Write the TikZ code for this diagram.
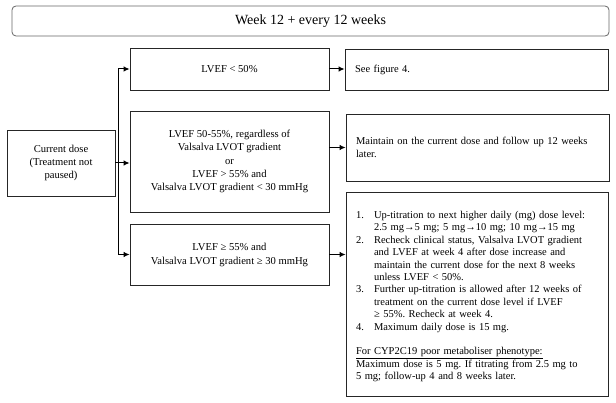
\documentclass[tikz,border=0pt]{standalone}
\usepackage{fontspec}
\setmainfont{Liberation Serif}
\usetikzlibrary{arrows.meta}
\frenchspacing

\newcommand{\boxfont}{\fontsize{10.6}{13.4}\selectfont}
\newcommand{\listfont}{\fontsize{10.5}{12.4}\selectfont}
\newcommand{\planitem}[2]{\par\hangindent=18pt\hangafter=1\noindent\makebox[18pt][l]{#1}#2}

\begin{document}
\begin{tikzpicture}[
    x=1pt, y=-1pt,
    box/.style={rectangle, draw=black!85, line width=0.8pt, inner sep=0pt, align=center, font=\boxfont},
    note/.style={box, align=left, inner xsep=10pt, font=\listfont},
    arrow/.style={-{Latex[length=6pt,width=5.5pt]}, line width=1pt}
]
    \useasboundingbox (0,0) rectangle (616,403);

    \node[box, rounded corners=4pt, draw=black!60, minimum width=597pt, minimum height=30pt,
          font=\fontsize{14}{16}\selectfont] (week) at (310.5,21) {Week 12 + every 12 weeks};

    \node[box, minimum width=108pt, minimum height=66pt] (dose) at (61,163) {Current dose\\(Treatment not\\paused)};

    \node[box, minimum width=199pt, minimum height=42pt] (low50) at (229.5,69) {LVEF < 50\%};
    \node[box, minimum width=199pt, minimum height=101pt] (mid) at (229.5,161.5)
        {LVEF 50-55\%, regardless of\\Valsalva LVOT gradient\\or\\LVEF > 55\% and\\Valsalva LVOT gradient < 30 mmHg};
    \node[box, minimum width=199pt, minimum height=61pt, font=\fontsize{10.6}{14}\selectfont] (high55) at (229.5,254.5)
        {LVEF ≥ 55\% and\\Valsalva LVOT gradient ≥ 30 mmHg};

    \node[note, text width=243pt, minimum height=41pt] (seefig) at (476.5,70) {See figure 4.};
    \node[note, text width=243pt, minimum height=67pt] (keep) at (477.5,147.5)
        {Maintain on the current dose and follow up 12 weeks\\later.};
    \node[note, text width=242pt, minimum height=204pt] (plan) at (477,294) {%
        \planitem{1.}{Up-titration to next higher daily (mg) dose level:\newline 2.5 mg→5 mg; 5 mg→10 mg; 10 mg→15 mg}
        \planitem{2.}{Recheck clinical status, Valsalva LVOT gradient\newline and LVEF at week 4 after dose increase and\newline maintain the current dose for the next 8 weeks\newline unless LVEF < 50\%.}
        \planitem{3.}{Further up-titration is allowed after 12 weeks of\newline treatment on the current dose level if LVEF\newline ≥ 55\%. Recheck at week 4.}
        \planitem{4.}{Maximum daily dose is 15 mg.}
        \par\vspace{12.4pt}\noindent
        \underline{For CYP2C19 poor metaboliser phenotype:}\newline
        Maximum dose is 5 mg. If titrating from 2.5 mg to\newline 5 mg; follow-up 4 and 8 weeks later.};

    % branches from the current dose
    \coordinate (split) at (118,163);
    \draw[line width=1pt] (dose.east) -- (split);
    \draw[arrow] (split) -- (split -| mid.west);
    \draw[arrow] (split) |- (low50.west);
    \draw[arrow] (split) |- (high55.west);

    \draw[arrow] (low50.east) -- (low50.east -| seefig.west);
    \draw[arrow] (mid.east |- keep.west) -- (keep.west);
    \draw[arrow] (high55.east) -- (high55.east -| plan.west);
\end{tikzpicture}
\end{document}
